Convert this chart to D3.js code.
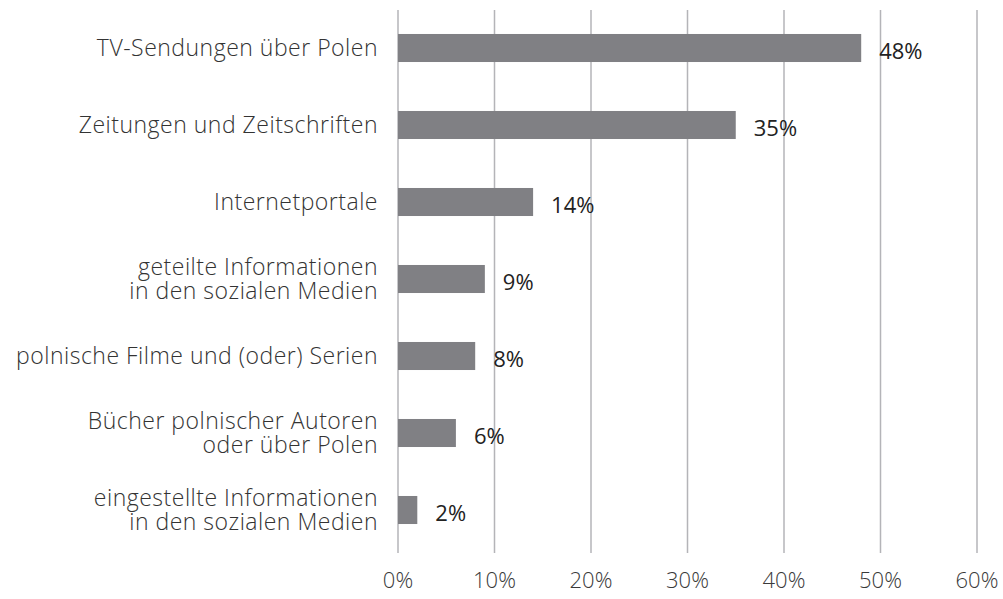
<!DOCTYPE html>
<html>
<head>
<meta charset="utf-8">
<script src="https://cdn.jsdelivr.net/npm/d3@7/dist/d3.min.js"></script>
<style>
    body { margin: 0; background: #fff; }
    svg text { font-family: "Open Sans", sans-serif; }
</style>
</head>
<body>
<div id="chart"></div>
<script>
// Kategorien (Zeilenumbruch mit "\n")
const categories = [
    "TV-Sendungen über Polen",
    "Zeitungen und Zeitschriften",
    "Internetportale",
    "geteilte Informationen\nin den sozialen Medien",
    "polnische Filme und (oder) Serien",
    "Bücher polnischer Autoren\noder über Polen",
    "eingestellte Informationen\nin den sozialen Medien"
];

const values = [48, 35, 14, 9, 8, 6, 2];

const xTicks = [0, 10, 20, 30, 40, 50, 60];

/**
 * Zeichnet das Balkendiagramm.
 */
function drawChart() {
    const width = 1003;
    const height = 599;

    const svg = d3.select("#chart").append("svg")
        .attr("width", width)
        .attr("height", height);

    const x = d3.scaleLinear()
        .domain([0, 60])
        .range([398, 977]);

    const y = d3.scaleBand()
        .domain(categories)
        .range([9.5, 548.5])
        .paddingInner(0.636)
        .paddingOuter(0.318);

    // Gitterlinien
    svg.selectAll("line.grid")
        .data(xTicks)
        .enter().append("line")
        .attr("class", "grid")
        .attr("x1", d => x(d))
        .attr("x2", d => x(d))
        .attr("y1", 10)
        .attr("y2", 553)
        .attr("stroke", "#b4b4b8")
        .attr("stroke-width", 1.5);

    // Achsenbeschriftung unten
    svg.selectAll("text.tick")
        .data(xTicks)
        .enter().append("text")
        .attr("class", "tick")
        .attr("x", d => x(d))
        .attr("y", 588)
        .attr("text-anchor", "middle")
        .attr("font-size", 22)
        .attr("font-weight", 300)
        .attr("fill", "#3a3a3a")
        .text(d => d + "%");

    // Balken
    svg.selectAll("rect.bar")
        .data(values)
        .enter().append("rect")
        .attr("class", "bar")
        .attr("x", x(0))
        .attr("y", (d, i) => y(categories[i]))
        .attr("width", d => x(d) - x(0))
        .attr("height", y.bandwidth())
        .attr("fill", "#808084");

    // Werte
    svg.selectAll("text.value")
        .data(values)
        .enter().append("text")
        .attr("class", "value")
        .attr("x", d => x(d) + 18)
        .attr("y", (d, i) => y(categories[i]) + y.bandwidth() / 2 + 11)
        .attr("font-size", 22)
        .attr("fill", "#222")
        .text(d => d + "%");

    // Kategorien
    const labels = svg.selectAll("text.cat")
        .data(categories)
        .enter().append("text")
        .attr("class", "cat")
        .attr("text-anchor", "end")
        .attr("font-size", 23)
        .attr("font-weight", 300)
        .attr("letter-spacing", 0.5)
        .attr("fill", "#333");

    labels.each(function (d) {
        const lines = d.split("\n");
        const cy = y(d) + y.bandwidth() / 2;
        const lineH = 24;
        const first = cy - (lines.length - 1) * lineH / 2 + 8;
        lines.forEach((line, k) => {
            d3.select(this).append("tspan")
                .attr("x", 378)
                .attr("y", first + k * lineH)
                .text(line);
        });
    });
}

drawChart();
</script>
</body>
</html>
